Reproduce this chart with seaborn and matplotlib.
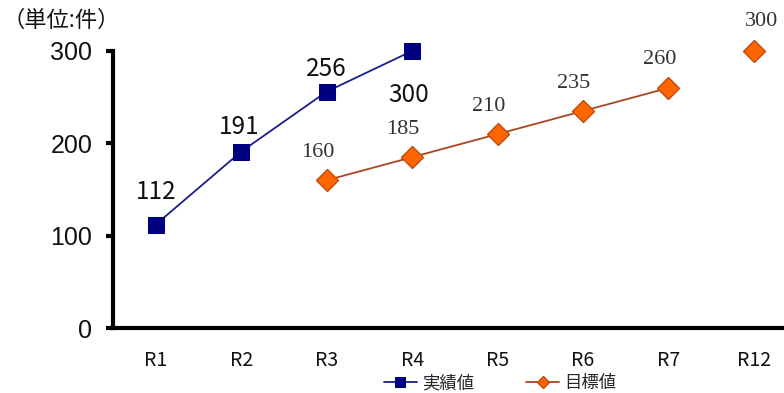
import numpy as np
import pandas as pd
import matplotlib
matplotlib.use("Agg")
import matplotlib.pyplot as plt
import seaborn as sns

categories = ["R1", "R2", "R3", "R4", "R5", "R6", "R7", "R12"]
actual_values = [112, 191, 256, 300, np.nan, np.nan, np.nan, np.nan]
target_values = [np.nan, np.nan, 160, 185, 210, 235, 260, 300]
y_ticks = [0, 100, 200, 300]
unit_label = "（単位:件）"
actual_name = "実績値"
target_name = "目標値"

sns.set_theme(style="white")
plt.rcParams['font.family'] = ['Noto Sans CJK JP', 'DejaVu Sans']

pos = np.arange(len(categories))
df = pd.DataFrame({"pos": pos, "cat": categories,
                   "actual": actual_values, "target": target_values})

fig = plt.figure(figsize=(7.84, 3.93), dpi=100)
ax = fig.add_axes([113 / 784, 1 - 328 / 393, (796.6 - 113) / 784, (328 - 51) / 393])

blue_line = "#1c1c8e"
blue_mark = "#000080"
orange_line = "#a8461e"
orange_fill = "#ff6600"
orange_edge = "#c04a10"

act = df.dropna(subset=["actual"])
sns.lineplot(data=act, x="pos", y="actual", ax=ax, color=blue_line, lw=1.3,
             marker="s", markersize=12, markerfacecolor=blue_mark,
             markeredgecolor=blue_mark, clip_on=False, label=actual_name)

tgt = df.dropna(subset=["target"])
tgt_line = tgt[tgt["cat"] != "R12"]
tgt_pt = tgt[tgt["cat"] == "R12"]
sns.lineplot(data=tgt_line, x="pos", y="target", ax=ax, color=orange_line, lw=1.3,
             marker="D", markersize=11, markerfacecolor=orange_fill,
             markeredgecolor=orange_edge, markeredgewidth=1, clip_on=False,
             label=target_name)
sns.lineplot(data=tgt_pt, x="pos", y="target", ax=ax, color=orange_line, lw=0,
             marker="D", markersize=11, markerfacecolor=orange_fill,
             markeredgecolor=orange_edge, markeredgewidth=1, clip_on=False,
             legend=False)

# data labels
act_offsets = [(0, 33), (-2, 25), (0, 23), (-3, -44)]
for (x, v), off in zip(zip(act["pos"], act["actual"]), act_offsets):
    ax.annotate(f"{int(v)}", (x, v), xytext=off, textcoords="offset pixels",
                ha="center", va="center", fontsize=17.5, color="#111111",
                family=['Noto Sans CJK JP', 'DejaVu Sans'], annotation_clip=False)

for x, v, c in zip(tgt["pos"], tgt["target"], tgt["cat"]):
    off = (8, 29) if c == "R12" else (-9, 28)
    ax.annotate(f"{int(v)}", (x, v), xytext=off, textcoords="offset pixels",
                ha="center", va="center", fontsize=16, color="#333333",
                family=['Liberation Serif', 'DejaVu Serif'], annotation_clip=False)

ax.set_xlim(-0.5, len(categories) - 0.5)
ax.set_ylim(0, 300)
ax.set_yticks(y_ticks)
ax.set_yticklabels([str(t) for t in y_ticks], fontsize=18,
                   family=['Liberation Sans', 'DejaVu Sans'])
ax.set_xticks(pos)
ax.set_xticklabels(categories, fontsize=14)
ax.set_xlabel("")
ax.set_ylabel("")

for s in ["top", "right"]:
    ax.spines[s].set_visible(False)
for s in ["left", "bottom"]:
    ax.spines[s].set_color("black")
    ax.spines[s].set_linewidth(3)
ax.tick_params(axis="y", which="major", left=True, direction="out", length=5,
               width=3, color="black", pad=10, labelcolor="#111111")
ax.tick_params(axis="x", bottom=False, pad=10, labelcolor="#111111")
ax.grid(False)

handles, labels = ax.get_legend_handles_labels()
ax.get_legend().remove()
fig.legend(handles, labels, loc="center", bbox_to_anchor=(500 / 784, 1 - 383 / 393),
           ncol=2, frameon=False, fontsize=12.5, handlelength=1.9,
           handletextpad=0.3, columnspacing=3.0, markerscale=0.6)

fig.text(3 / 784, 1 - 20 / 393, unit_label, fontsize=16, ha="left", va="center",
         color="#111111")

fig.savefig("out.png", dpi=100)
